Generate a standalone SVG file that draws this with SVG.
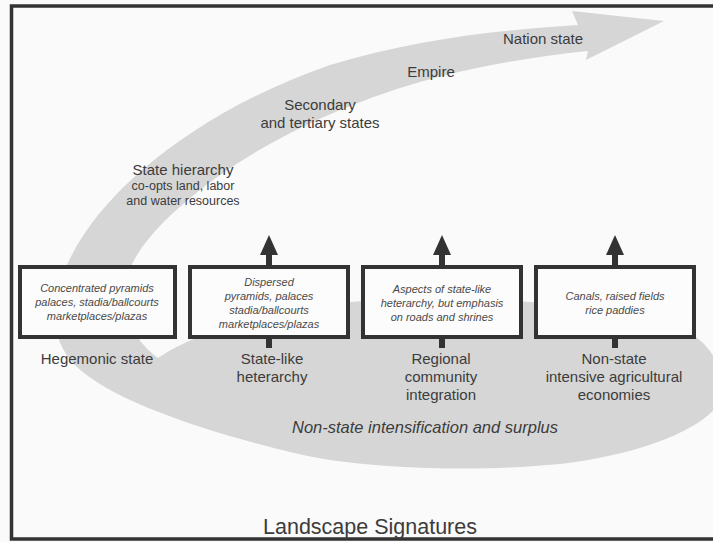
<svg xmlns="http://www.w3.org/2000/svg" width="713" height="542" viewBox="0 0 713 542">
<style>
.bg{fill:#fafafa}
.frame{fill:none;stroke:#333;stroke-width:3.5}
.swoosh{fill:#d6d6d6}
.box{fill:#fcfcfc;stroke:#333;stroke-width:4}
.bt{font-family:"Liberation Sans",Arial,sans-serif;font-style:italic;font-size:11px;fill:#4a4a4a;text-anchor:middle}
.lb{font-family:"Liberation Sans",Arial,sans-serif;font-size:15px;fill:#3c3c3c;text-anchor:middle}
.sm{font-family:"Liberation Sans",Arial,sans-serif;font-size:12.5px;fill:#3c3c3c;text-anchor:middle}
.it{font-family:"Liberation Sans",Arial,sans-serif;font-style:italic;font-size:16.5px;fill:#3c3c3c;text-anchor:middle}
.title{font-family:"Liberation Sans",Arial,sans-serif;font-size:21.5px;fill:#3c3c3c;text-anchor:middle}
.conn{stroke:#333;stroke-width:6;fill:none}
</style>
<defs>
<marker id="ah" viewBox="0 0 20 18" refX="0" refY="9" markerWidth="20" markerHeight="18" markerUnits="userSpaceOnUse" orient="auto">
<path d="M0,0 L20,9 L0,18 Z" fill="#333"/>
</marker>
</defs>
<rect class="bg" x="0" y="0" width="713" height="542"/>
<g id="swoosh">
<path class="swoosh" d="M578,25 L572,11 L664,21 L586,60 L588,51 C520,58 460,70 420,82 C330,108 250,150 200,190 C160,222 128,255 124,290 C122,320 140,345 158,358 C200,330 280,305 380,300 C500,296 620,305 680,328 C715,342 730,380 718,405 C700,430 640,455 560,464 C480,472 360,470 290,452 C200,430 110,400 75,365 C50,340 48,300 67,265 C100,190 200,110 330,65 C420,38 500,30 578,25 Z"/>
</g>
<rect class="frame" x="11.5" y="6" width="720" height="533"/>
<g id="stage-labels">
<text class="lb" x="543" y="44">Nation state</text>
<text class="lb" x="431" y="77">Empire</text>
<text class="lb" x="320" y="110">Secondary</text>
<text class="lb" x="320" y="128">and tertiary states</text>
<text class="lb" x="183" y="175">State hierarchy</text>
<text class="sm" x="183" y="190">co-opts land, labor</text>
<text class="sm" x="183" y="205">and water resources</text>
</g>
<g id="connectors">
<line class="conn" x1="269" y1="266" x2="269" y2="255" marker-end="url(#ah)"/>
<line class="conn" x1="442" y1="266" x2="442" y2="255" marker-end="url(#ah)"/>
<line class="conn" x1="615" y1="266" x2="615" y2="255" marker-end="url(#ah)"/>
<line class="conn" x1="269" y1="338" x2="269" y2="348"/>
<line class="conn" x1="442" y1="338" x2="442" y2="348"/>
<line class="conn" x1="615" y1="338" x2="615" y2="348"/>
</g>
<g id="node-hegemonic">
<rect class="box" x="20" y="267" width="155" height="70"/>
<text class="bt" x="97" y="292">Concentrated pyramids</text>
<text class="bt" x="97" y="306">palaces, stadia/ballcourts</text>
<text class="bt" x="97" y="320">marketplaces/plazas</text>
<text class="lb" x="97" y="364">Hegemonic state</text>
</g>
<g id="node-statelike">
<rect class="box" x="190" y="267" width="158" height="70"/>
<text class="bt" x="269" y="286">Dispersed</text>
<text class="bt" x="269" y="300">pyramids, palaces</text>
<text class="bt" x="269" y="314">stadia/ballcourts</text>
<text class="bt" x="269" y="328">marketplaces/plazas</text>
<text class="lb" x="272" y="364">State-like</text>
<text class="lb" x="272" y="382">heterarchy</text>
</g>
<g id="node-regional">
<rect class="box" x="363" y="267" width="158" height="70"/>
<text class="bt" x="442" y="293">Aspects of state-like</text>
<text class="bt" x="442" y="307">heterarchy, but emphasis</text>
<text class="bt" x="442" y="321">on roads and shrines</text>
<text class="lb" x="441" y="364">Regional</text>
<text class="lb" x="441" y="382">community</text>
<text class="lb" x="441" y="400">integration</text>
</g>
<g id="node-nonstate">
<rect class="box" x="536" y="267" width="158" height="70"/>
<text class="bt" x="615" y="300">Canals, raised fields</text>
<text class="bt" x="615" y="314">rice paddies</text>
<text class="lb" x="614" y="364">Non-state</text>
<text class="lb" x="614" y="382">intensive agricultural</text>
<text class="lb" x="614" y="400">economies</text>
</g>
<text class="it" x="425" y="433">Non-state intensification and surplus</text>
<text class="title" x="370" y="534">Landscape Signatures</text>
</svg>
